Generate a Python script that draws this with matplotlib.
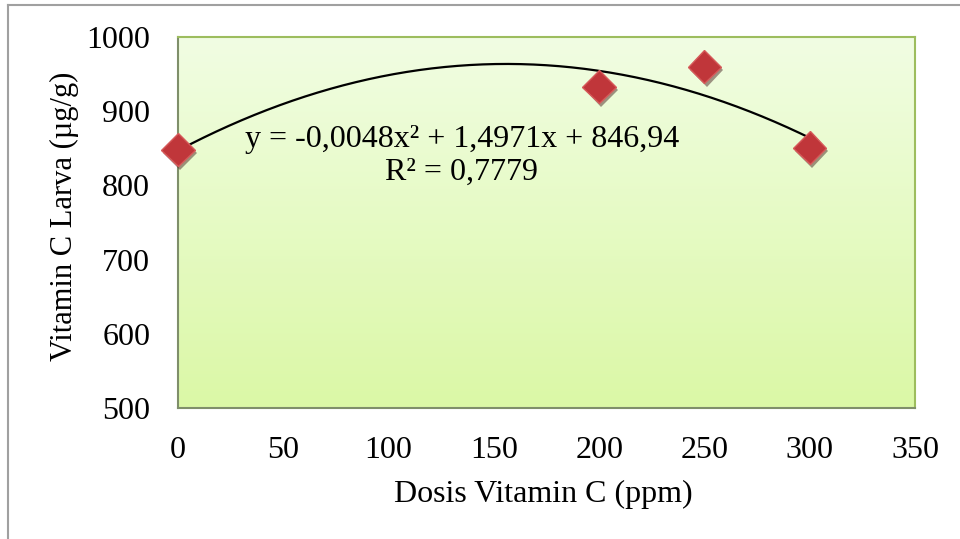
import numpy as np
import matplotlib.pyplot as plt
import matplotlib.patheffects as pe
from matplotlib.colors import LinearSegmentedColormap

# data
dosis = [0, 200, 250, 300]
vit_c = [848, 933, 960, 851]

# polynomial trendline printed on the chart
coef = [-0.0048, 1.4971, 846.94]
eq_text = "y = -0,0048x\u00b2 + 1,4971x + 846,94"
r2_text = "R\u00b2 = 0,7779"

x_ticks = [0, 50, 100, 150, 200, 250, 300, 350]
y_ticks = [500, 600, 700, 800, 900, 1000]

plt.rcParams['font.family'] = ['Liberation Serif', 'DejaVu Serif']
plt.rcParams['font.size'] = 23

fig = plt.figure(figsize=(9.6, 5.39), dpi=100)
ax = fig.add_axes([178/960, 1-408/539, (915-178)/960, (408-37)/539])

# gradient background of the plot area
grad = LinearSegmentedColormap.from_list('g', ['#dbf8a6', '#f1fde3'])
ax.imshow(np.linspace(0, 1, 256).reshape(-1, 1), cmap=grad, aspect='auto',
          extent=[0, 350, 500, 1000], origin='lower', zorder=0)

# trendline
xs = np.linspace(0, 300, 200)
ax.plot(xs, np.polyval(coef, xs), color='black', lw=1.6, zorder=3)

# points
ax.plot(dosis, vit_c, linestyle='none', marker='D', markersize=17,
        markerfacecolor='#c0363a', markeredgecolor='#d65a5a', markeredgewidth=1,
        zorder=4, clip_on=False,
        path_effects=[pe.SimplePatchShadow(offset=(1.5, -2.5), alpha=0.45), pe.Normal()])

ax.text(0.385, 0.725, eq_text, transform=ax.transAxes, ha='center', va='center')
ax.text(0.385, 0.635, r2_text, transform=ax.transAxes, ha='center', va='center')

ax.set_xlim(0, 350)
ax.set_ylim(500, 1000)
ax.set_xticks(x_ticks)
ax.set_yticks(y_ticks)
ax.tick_params(length=0, pad=20)
for s in ax.spines.values():
    s.set_color('#9dbd5e')
    s.set_linewidth(1.5)
ax.spines['left'].set_color('#7f8f6a')
ax.spines['bottom'].set_color('#7f8f6a')

ax.set_xlabel('Dosis Vitamin C (ppm)')
ax.xaxis.set_label_coords(0.495, -0.195)
ax.set_ylabel('Vitamin C Larva (\u00b5g/g)', fontsize=22)
ax.yaxis.set_label_coords(-0.135, 0.517)

# outer frame of the figure
fig.add_artist(plt.Line2D([8/960, 1], [1-5/539, 1-5/539], color='#a0a0a0', lw=1.5))
fig.add_artist(plt.Line2D([8/960, 8/960], [0, 1-5/539], color='#a0a0a0', lw=1.5))

fig.savefig('out.png', dpi=100)
